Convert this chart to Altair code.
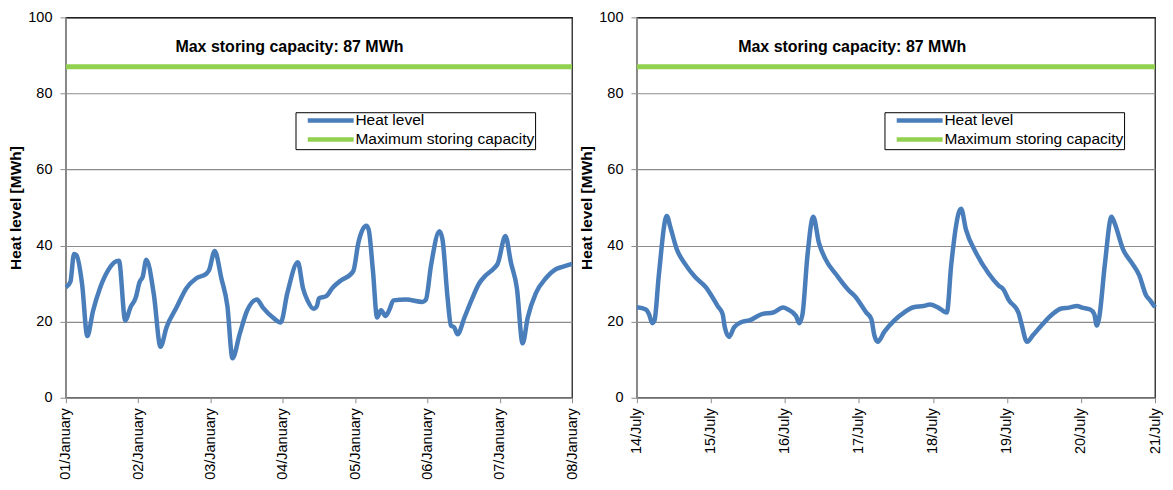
import altair as alt
import pandas as pd

# ---------------- data ----------------
jan_hours = [0, 1.5, 2.7, 3.5, 5.4, 7.1, 9.0, 11.3, 14.0, 16.8, 17.6, 19.7, 21.4, 23.2,
             24.5, 25.5, 26.7, 29.2, 31.4, 33.4, 36.7, 40.0, 43.3, 46.6, 47.5, 49.4,
             51.6, 53.6, 55.3, 57.7, 60.1, 63.4, 65.4, 68.7, 71.3, 73.5, 77.0, 78.7,
             80.3, 82.2, 83.3, 84.0, 86.4, 88.6, 91.4, 94.7, 95.5, 97.1, 99.7, 100.5,
             101.9, 103.3, 104.6, 106.1, 107.4, 108.7, 112.9, 118.4, 119.5, 121.2,
             124.0, 125.0, 126.7, 127.8, 128.9, 130.0, 132.3, 134.5, 137.2, 139.4,
             142.2, 143.3, 145.9, 147.7, 149.7, 151.6, 153.3, 156.0, 159.3, 162.6,
             164.8, 168.0]
jan_heat = [29.0, 30.5, 37.8, 37.5, 29.7, 16.2, 22.8, 28.8, 33.5, 35.9, 36.0, 20.3, 23.7, 26.4,
            30.5, 31.8, 36.3, 27.1, 13.4, 18.5, 23.7, 28.8, 31.4, 32.6, 33.5, 38.6,
            31.4, 24.1, 10.4, 16.8, 22.8, 25.8, 23.7, 21.1, 19.8, 27.5, 35.6, 28.8,
            25.4, 23.4, 24.1, 26.1, 26.7, 29.0, 30.9, 32.6, 33.5, 40.8, 45.2, 44.2,
            33.5, 21.1, 23.0, 21.5, 23.2, 25.6, 25.8, 25.2, 25.8, 34.8,
            43.8, 41.6, 26.2, 19.0, 18.5, 16.7, 21.1, 25.4, 30.1, 32.2,
            34.1, 35.2, 42.5, 35.6, 28.8, 14.3, 21.1, 27.5, 31.4, 33.8,
            34.4, 35.2]

jul_hours = [0, 2.9, 3.9, 5.0, 5.7, 7.1, 9.7, 10.8, 12.9, 15.6, 18.8, 22.4, 24.0, 26.2,
             27.8, 28.5, 29.9, 31.5, 33.6, 36.7, 40.5, 44.2, 47.4, 49.0, 51.6, 52.6,
             53.7, 55.3, 57.2, 59.0, 61.1, 64.8, 68.5, 70.7, 74.4, 76.0, 77.0, 78.1,
             80.2, 83.4, 86.6, 89.7, 92.9, 95.0, 97.7, 100.5, 101.9, 105.1, 106.7,
             109.9, 114.1, 117.3, 118.9, 120.5, 123.7, 124.7, 126.5, 128.4, 131.6,
             134.8, 137.4, 140.1, 142.7, 144.3, 147.0, 148.3, 149.1, 149.9, 151.7,
             153.9, 154.9, 157.6, 160.7, 162.9, 165.0, 166.6, 168.0]
jul_heat = [23.8, 23.2, 22.0, 19.6, 20.3, 32.2, 47.8, 45.0, 39.1, 35.2, 31.8, 29.0, 27.1, 24.1,
            22.0, 18.5, 16.0, 18.5, 19.8, 20.4, 22.0, 22.4, 23.7, 23.2, 21.5, 19.6,
            22.0, 37.4, 47.6, 40.8, 36.5, 32.2, 28.4, 26.7, 22.4, 20.7, 16.4, 14.7,
            17.3, 20.3, 22.4, 23.8, 24.1, 24.5, 23.7, 22.4, 34.8, 49.7, 44.2,
            38.2, 32.6, 29.5, 28.4, 25.8, 22.4, 19.4, 14.7, 16.4, 19.4,
            22.0, 23.4, 23.7, 24.1, 23.7, 23.2, 22.0, 19.0, 21.1, 34.8,
            47.6, 45.9, 39.1, 35.2, 32.2, 27.1, 25.4, 23.8]

jan_day_labels = ["01/January", "02/January", "03/January", "04/January",
                  "05/January", "06/January", "07/January", "08/January"]
jul_day_labels = ["14/July", "15/July", "16/July", "17/July",
                  "18/July", "19/July", "20/July", "21/July"]
x_tick_hours = list(range(0, 169, 6))
y_ticks = [0, 20, 40, 60, 80, 100]
max_capacity = [87]
annotation = ["Max storing capacity: 87 MWh"]
series_names = ["Heat level", "Maximum storing capacity"]
series_colors = ["#4a7ebb", "#92d050"]
y_title = "Heat level [MWh]"

FONT = "Liberation Sans"
GRID = "#8c8c8c"
PLOT_H = 381


def panel(hours, heat, day_labels, width, text_hour, legend_x):
    heat_df = pd.DataFrame({"hour": hours, "heat": heat, "series": series_names[0]})
    cap_df = pd.DataFrame({"cap": max_capacity, "series": series_names[1]})
    txt_df = pd.DataFrame({"label": annotation})

    arr = "[" + ",".join("'" + s + "'" for s in day_labels) + "]"
    x_axis = alt.Axis(
        values=x_tick_hours,
        labelExpr="datum.value % 24 == 0 ? " + arr + "[datum.value / 24] : ''",
        labelAngle=-90, labelFontSize=14.5, labelFont=FONT, labelColor="black",
        labelPadding=5, labelOverlap=False, labelFlush=False,
        tickSize=5, tickColor=GRID, domainColor=GRID, domainWidth=1.2,
        grid=False, title=None,
    )
    y_axis = alt.Axis(
        values=y_ticks, labelFontSize=14.5, labelFont=FONT, labelColor="black",
        labelPadding=8, tickSize=6, tickColor=GRID, domainColor=GRID, domainWidth=1.2,
        grid=True,
        gridColor=alt.condition("datum.value == 100", alt.value("#222222"), alt.value(GRID)),
        gridWidth=1.2,
        title=y_title, titleFont=FONT, titleFontSize=15.5, titleFontWeight="bold",
        titleColor="black", titlePadding=4,
    )
    x_scale = alt.Scale(domain=[0, 168], nice=False, zero=False)
    y_scale = alt.Scale(domain=[0, 100], nice=False)
    color_scale = alt.Scale(domain=series_names, range=series_colors)
    legend = alt.Legend(
        title=None, orient="none", legendX=legend_x, legendY=95,
        symbolType="M-1,0H8.2", symbolSize=100, symbolStrokeWidth=4.5,
        symbolOffset=9, labelOffset=35,
        labelFont=FONT, labelFontSize=15.5, labelColor="black",
        labelExpr="datum.label + '\u2003'",
        strokeColor="black", fillColor="white", padding=0.5, rowPadding=0,
        labelLimit=400,
    )

    line = alt.Chart(heat_df).mark_line(strokeWidth=4.5, interpolate="monotone").encode(
        x=alt.X("hour:Q", scale=x_scale, axis=x_axis),
        y=alt.Y("heat:Q", scale=y_scale, axis=y_axis),
        color=alt.Color("series:N", scale=color_scale, legend=legend),
    )
    cap = alt.Chart(cap_df).mark_rule(strokeWidth=5).encode(
        y=alt.Y("cap:Q", scale=y_scale),
        color=alt.Color("series:N", scale=color_scale, legend=legend),
    )
    txt = alt.Chart(txt_df).mark_text(
        font=FONT, fontSize=16, fontWeight="bold", color="black", baseline="middle", align="center"
    ).encode(
        x=alt.datum(text_hour),
        y=alt.datum(92.2),
        text="label:N",
    )
    return alt.layer(cap, line, txt).properties(width=width, height=PLOT_H)


left = panel(jan_hours, jan_heat, jan_day_labels, 507, 74.2, 230)
right = panel(jul_hours, jul_heat, jul_day_labels, 519, 69.8, 248)

chart = alt.hconcat(left, right, spacing=65, bounds="flush").resolve_scale(
    color="independent"
).properties(
    padding={"left": 0, "top": 0, "right": 0, "bottom": 0},
    background="white",
).configure_view(stroke="#222222", strokeWidth=1.3)

chart.save("out.html", embed_options={"renderer": "svg", "actions": False})
